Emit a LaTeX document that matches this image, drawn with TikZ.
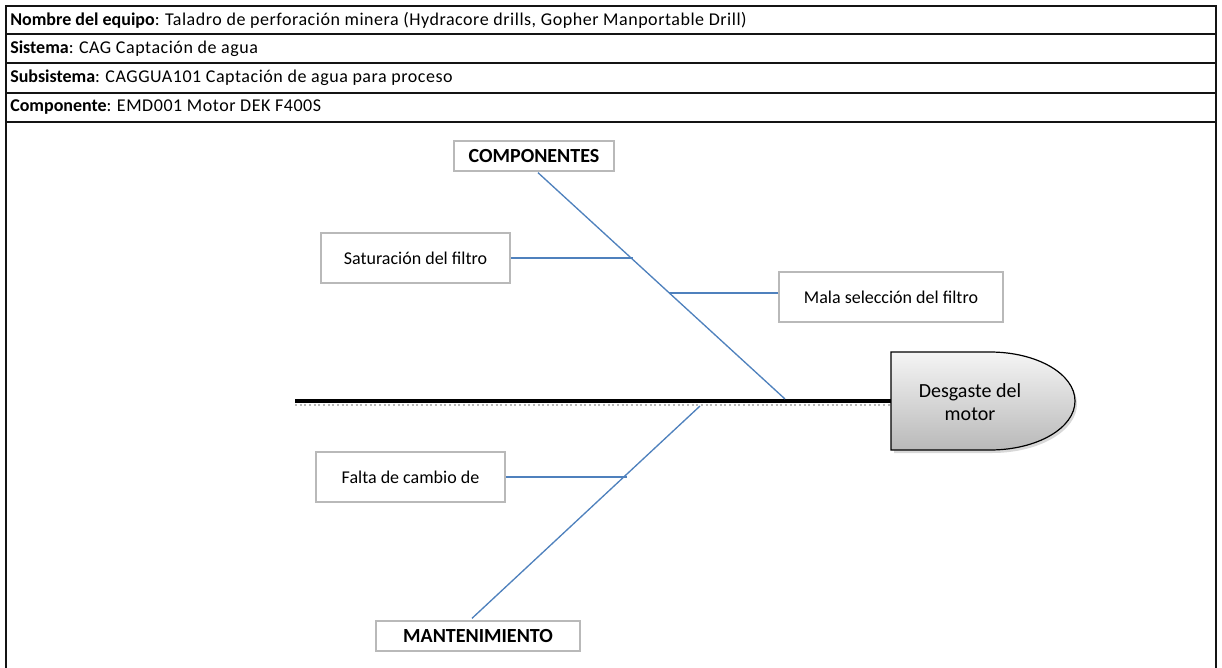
\documentclass[tikz,border=0pt]{standalone}
\usepackage{fontspec}
\setmainfont{Carlito}
\usetikzlibrary{arrows.meta,positioning,calc}
\definecolor{bone}{RGB}{79,129,189}
\definecolor{frame}{RGB}{20,20,20}
\definecolor{boxline}{RGB}{185,185,185}
\tikzset{
  cause/.style={draw=boxline,line width=1.5pt,fill=white,minimum width=#1,
    minimum height=37.5pt,font=\fontsize{13.5}{16}\selectfont,align=center},
  cause/.default=142pt,
  category/.style={draw=boxline,line width=1.5pt,fill=white,minimum width=#1,
    minimum height=22pt,font=\fontsize{15}{18}\selectfont\bfseries},
  category/.default=120pt,
  rib/.style={draw=bone,line width=1pt},
  twig/.style={draw=bone,line width=1.6pt},
  rowtext/.style={anchor=west,font=\fontsize{13.5}{16}\selectfont,inner sep=0pt},
}
\newcommand{\rowval}[1]{{\addfontfeatures{LetterSpace=3}#1}}

\begin{document}
\begin{tikzpicture}[x=0.75pt,y=-0.75pt]
  \useasboundingbox (0,0) rectangle (1222,668);
  % header table
  \draw[frame,line width=0.8pt] (6,668) -- (6,6) -- (1216,6);
  \draw[frame,line width=2pt] (1216,5) -- (1216,668);
  \foreach \y in {34,63,93,122}
    \draw[frame,line width=1pt] (6,\y) -- (1216,\y);
  \node[rowtext] (r1) at (10,20) {\textbf{Nombre del equipo}: \rowval{Taladro de perforación minera (Hydracore drills, Gopher Manportable Drill)}};
  \node[rowtext] (r2) at (10,49) {\textbf{Sistema}: \rowval{CAG Captación de agua}};
  \node[rowtext] (r3) at (10,78) {\textbf{Subsistema}: \rowval{CAGGUA101 Captación de agua para proceso}};
  \node[rowtext] (r4) at (10,107) {\textbf{Componente}: \rowval{EMD001 Motor DEK F400S}};

  % head
  \fill[gray!60,opacity=0.5] (894,355) -- (992,355) arc (-90:90:85 and 49) -- (894,453) -- cycle;
  \shade[top color=gray!8,bottom color=gray!55,draw=black,line width=0.9pt]
    (891,352) -- (990,352) arc (-90:90:85 and 49) -- (891,450) -- cycle;
  \node[font=\fontsize{15}{17}\selectfont,align=center] (head) at (970,402) {Desgaste del\\motor};
  \coordinate (tail) at (295,401);
  \coordinate (neck) at (891,401);

  % spine
  \draw[gray!55,line width=1.5pt,dotted] ($(tail)+(0,3.5)$) -- ($(neck)+(0,3.5)$);
  \draw[black,line width=3pt] (tail) -- (neck);

  % categories
  \node[category] (comp) at (534,156) {COMPONENTES};
  \node[category=153pt] (mant) at (478,636) {MANTENIMIENTO};
  \coordinate (ctop) at (785,399);
  \coordinate (cbot) at (700,406);
  \draw[rib] (comp.south) ++(4,1) coordinate (c1) (c1) -- (ctop);
  \draw[rib] (mant.north) ++(-6,-2) coordinate (m1) (m1) -- (cbot);

  % causes
  \node[cause] (sat) at (415.5,258) {Saturación del filtro};
  \node[cause=168pt] (mala) at (891,297) {Mala selección del filtro};
  \node[cause] (falta) at (410.5,477) {Falta de cambio de};
  \coordinate (j1) at (633,258);
  \coordinate (j2) at (669,293);
  \coordinate (j3) at (627,477);
  \draw[twig] (sat.east) -- (j1);
  \draw[rib] (mala.west |- j2) -- (j2);
  \draw[twig] (falta.east) -- (j3);
\end{tikzpicture}
\end{document}
